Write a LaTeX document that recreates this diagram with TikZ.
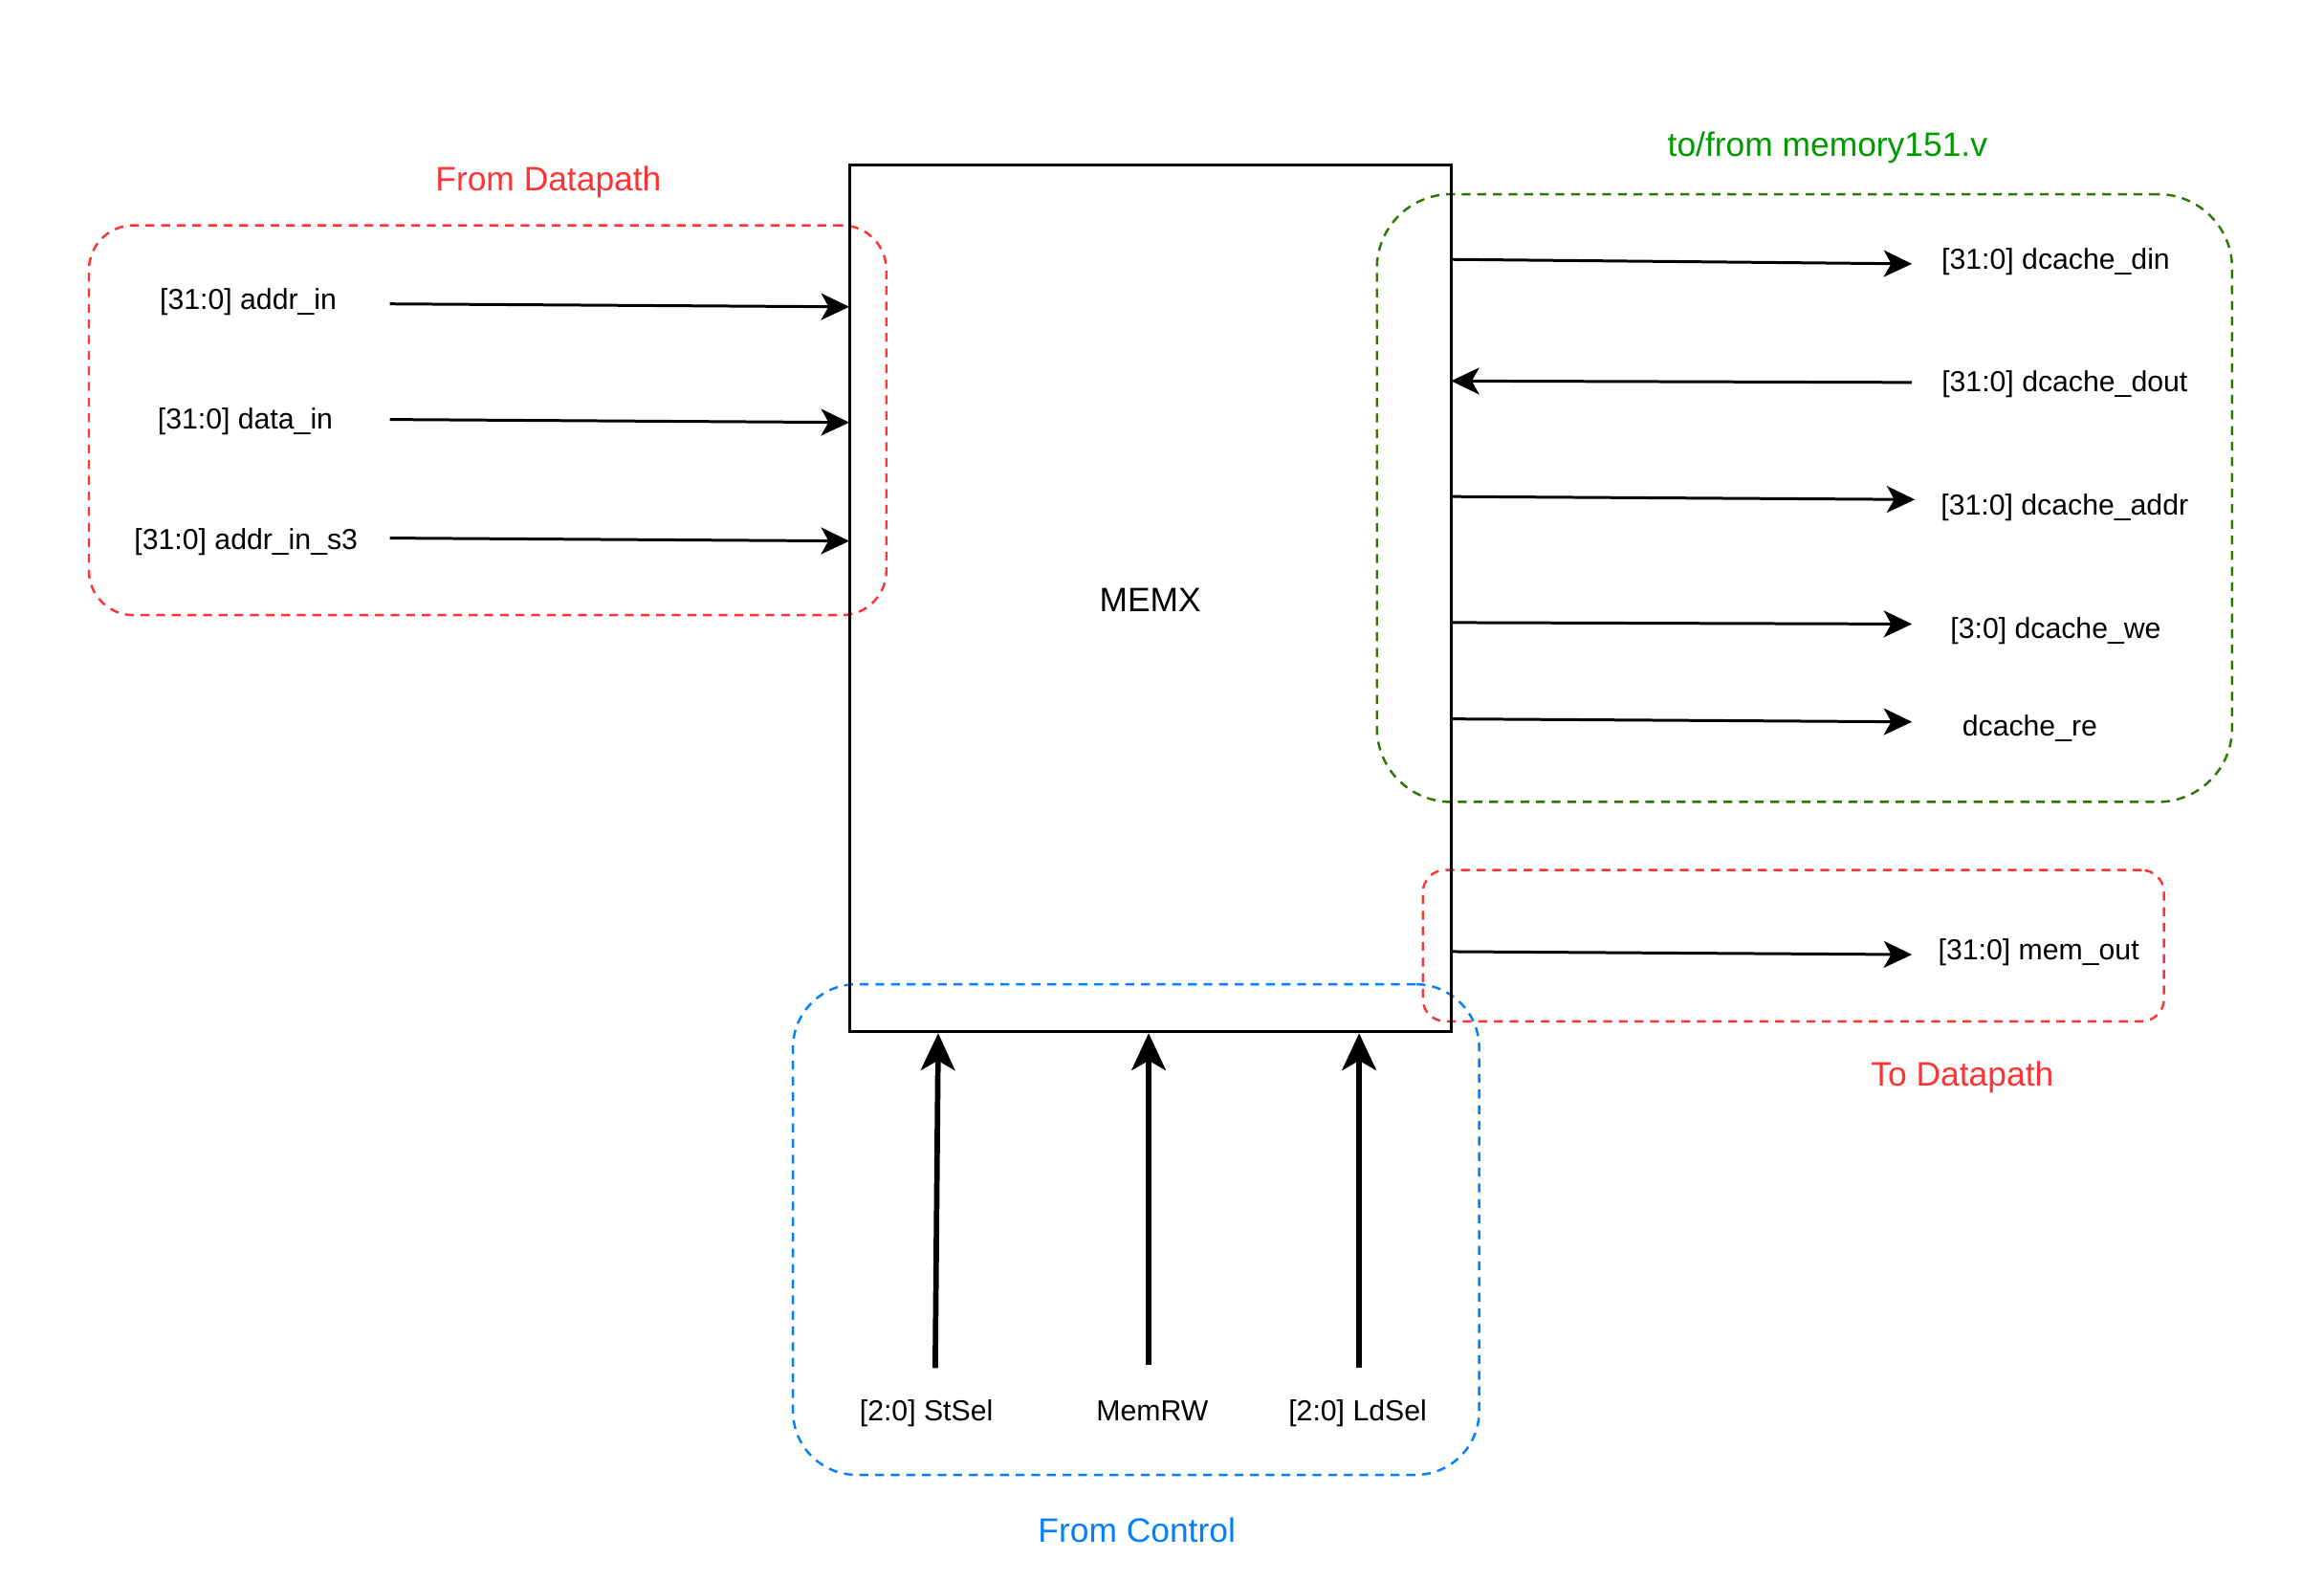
\documentclass[tikz,border=0pt]{standalone}
\usepackage{fontspec}
\setmainfont{Liberation Sans}
\usetikzlibrary{arrows.meta,fit}
\definecolor{dpred}{HTML}{FF3333}
\definecolor{ctlblue}{HTML}{007FFF}
\definecolor{memgreen}{HTML}{009900}
\definecolor{grpgreen}{HTML}{2D7600}
\begin{document}
\begin{tikzpicture}[x=0.02cm,y=-0.02cm,
  lbl/.style={font=\fontsize{11.1}{13}\selectfont, anchor=base, inner sep=0pt},
  ttl/.style={font=\fontsize{13}{15}\selectfont, anchor=base, inner sep=0pt},
  grp/.style={draw, dash pattern=on 3.4pt off 2.6pt, line width=0.9pt, inner sep=0pt},
  wire/.style={line width=1.1pt, -{Stealth[length=0.38cm,width=0.36cm,inset=0.1cm]}},
  ctl/.style={line width=2.1pt, -{Stealth[length=0.5cm,width=0.46cm,inset=0.13cm]}},
]
\useasboundingbox (0,0) rectangle (1568,1066);

% group frames
\coordinate (g1a) at (60,152);   \coordinate (g1b) at (598,415);
\coordinate (g2a) at (929,131);  \coordinate (g2b) at (1506,541);
\coordinate (g3a) at (960,587);  \coordinate (g3b) at (1460,689);
\coordinate (g4a) at (535,664);  \coordinate (g4b) at (998,995);
\node[grp, draw=dpred, rounded corners=0.6cm, fit=(g1a)(g1b)] (gfromdp) {};
\node[grp, draw=grpgreen, rounded corners=1cm, fit=(g2a)(g2b)] (gmem) {};
\node[grp, draw=dpred, rounded corners=0.3cm, fit=(g3a)(g3b)] (gtodp) {};
\node[grp, draw=ctlblue, rounded corners=0.86cm, fit=(g4a)(g4b)] (gctl) {};

% group titles
\node[ttl, text=dpred] (tfromdp) at (370,128.5) {From Datapath};
\node[ttl, text=memgreen] (tmem) at (1233,105.5) {to/from memory151.v};
\node[ttl, text=dpred] (ttodp) at (1324,732.5) {To Datapath};
\node[ttl, text=ctlblue] (tctl) at (767,1040.5) {From Control};

% main block
\coordinate (m1) at (573,111); \coordinate (m2) at (979,696);
\node[draw, line width=1.1pt, inner sep=0pt, fit=(m1)(m2)] (memx) {};
\node[font=\fontsize{13}{15}\selectfont, anchor=base, inner sep=0pt] (memxlbl) at (776,412.5) {MEMX};

% left inputs
\node[lbl] (laddr) at (167.5,208.5) {[31:0] addr\_in};
\node[lbl] (ldata) at (165.5,289.5) {[31:0] data\_in};
\node[lbl] (laddrs) at (166,370.5) {[31:0] addr\_in\_s3};
\coordinate (a1s) at (263,205); \coordinate (a1e) at (573,207);
\coordinate (a2s) at (263,283); \coordinate (a2e) at (573,285);
\coordinate (a3s) at (263,363); \coordinate (a3e) at (573,365);
\draw[wire] (a1s) -- (a1e);
\draw[wire] (a2s) -- (a2e);
\draw[wire] (a3s) -- (a3e);

% right side
\node[lbl] (rdin) at (1387,181.5) {[31:0] dcache\_din};
\node[lbl] (rdout) at (1393,264.5) {[31:0] dcache\_dout};
\node[lbl] (raddr) at (1393,347.5) {[31:0] dcache\_addr};
\node[lbl] (rwe) at (1387,430.5) {[3:0] dcache\_we};
\node[lbl] (rre) at (1369.5,496.5) {dcache\_re};
\node[lbl] (rmem) at (1375.5,647.5) {[31:0] mem\_out};
\coordinate (b1s) at (979,175);  \coordinate (b1e) at (1290,178);
\coordinate (b2s) at (1290,258); \coordinate (b2e) at (979,257);
\coordinate (b3s) at (979,335);  \coordinate (b3e) at (1292,337);
\coordinate (b4s) at (979,420);  \coordinate (b4e) at (1290,421);
\coordinate (b5s) at (979,485);  \coordinate (b5e) at (1290,487);
\coordinate (b6s) at (979,642);  \coordinate (b6e) at (1290,644);
\draw[wire] (b1s) -- (b1e);
\draw[wire] (b2s) -- (b2e);
\draw[wire] (b3s) -- (b3e);
\draw[wire] (b4s) -- (b4e);
\draw[wire] (b5s) -- (b5e);
\draw[wire] (b6s) -- (b6e);

% bottom control inputs
\node[lbl] (cst) at (625,958.5) {[2:0] StSel};
\node[lbl] (crw) at (777.5,958.5) {MemRW};
\node[lbl] (cld) at (916,958.5) {[2:0] LdSel};
\coordinate (c1s) at (631,923); \coordinate (c1e) at (633,697);
\coordinate (c2s) at (775,921); \coordinate (c2e) at (775,697);
\coordinate (c3s) at (917,923); \coordinate (c3e) at (917,697);
\draw[ctl] (c1s) -- (c1e);
\draw[ctl] (c2s) -- (c2e);
\draw[ctl] (c3s) -- (c3e);
\end{tikzpicture}
\end{document}
